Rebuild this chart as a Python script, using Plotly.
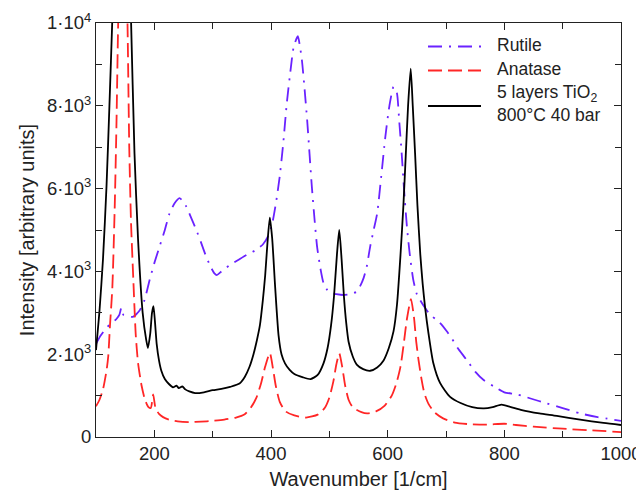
import plotly.graph_objects as go

# Raman spectra of TiO2 references and a sintered 5-layer film
rutile_x = [100, 108, 118, 127, 135, 140, 143.5, 147, 155, 163, 170, 175, 183, 192, 200, 209, 218, 226,
            235, 243, 249, 255, 263, 272, 280, 289, 297, 303, 307, 315, 329, 343, 358, 372, 386, 395,
            402, 409, 415, 421, 427, 433, 439, 446, 450, 453, 457, 462, 466, 470, 475, 479, 485, 490,
            496, 502, 512, 524, 536, 547, 553, 559, 564, 570, 576, 582, 589, 596, 603, 610, 613, 616,
            620, 624, 628, 633, 638, 644, 650, 656, 664, 673, 682, 690, 701, 710, 720, 735, 750, 765,
            787, 800, 822, 845, 873, 900, 930, 960, 1000]
rutile_y = [2250, 2450, 2640, 2750, 2850, 2950, 3120, 2950, 2920, 2900, 2980, 3060, 3300, 3800, 4200,
            4600, 5000, 5400, 5650, 5770, 5700, 5560, 5300, 5000, 4700, 4350, 4100, 3950, 3910, 4000,
            4150, 4270, 4400, 4500, 4650, 4850, 5150, 5700, 6300, 7100, 8050, 8800, 9430, 9680, 9400,
            9100, 8500, 7650, 6850, 6050, 5200, 4600, 4050, 3720, 3560, 3480, 3450, 3430, 3450, 3510,
            3650, 3850, 4110, 4600, 5000, 5400, 6300, 7250, 8000, 8460, 8400, 8300, 7600, 6850, 6000,
            5080, 4400, 3790, 3450, 3300, 3120, 2950, 2850, 2750, 2560, 2380, 2150, 1870, 1580, 1370,
            1180, 1080, 1030, 930, 810, 700, 570, 480, 390]

anatase_x = [100, 106, 112, 118, 121, 124, 128, 132, 135, 138, 146, 154, 157, 160, 164, 168, 172, 178,
             184, 190, 194, 198, 202, 208, 215, 225, 240, 260, 280, 300, 320, 340, 355, 365, 375, 383,
             390, 398, 404, 408, 415, 425, 440, 460, 480, 492, 500, 507, 512, 517, 522, 527, 533, 540,
             555, 565, 580, 595, 607, 615, 622, 628, 633, 640, 645, 649, 653, 658, 663, 670, 680, 695,
             715, 740, 770, 800, 820, 850, 900, 950, 1000]
anatase_y = [740, 900, 1150, 1600, 1950, 2700, 3600, 5500, 7500, 10000, 15000, 10000, 7000, 5200, 3800,
             2500, 1800, 1250, 900, 720, 700, 1030, 700, 560, 480, 420, 380, 360, 370, 390, 420, 470,
             550, 700, 950, 1300, 1700, 2030, 1600, 1250, 850, 620, 520, 470, 540, 700, 950, 1350, 1750,
             2020, 1700, 1250, 900, 720, 600, 570, 620, 760, 1000, 1300, 1700, 2300, 2850, 3330, 2900,
             2300, 1850, 1400, 1050, 800, 600, 450, 350, 310, 300, 320, 290, 250, 200, 160, 120]

film_x = [100, 106, 112, 118, 123, 128, 136, 144, 152, 160, 166, 172, 180, 186, 189, 193, 196, 198.5,
          201, 204, 208, 212, 218, 225, 232, 238, 242, 248, 253, 260, 270, 285, 300, 315, 330, 346,
          355, 363, 370, 376, 381, 386, 390, 394, 398, 402, 407, 413, 418, 424, 432, 440, 455, 468,
          480, 490, 497, 503, 508, 513, 517, 521, 525, 529, 533, 540, 547, 558, 570, 582, 593, 602,
          610, 616, 622, 627, 631, 635, 639.5, 643, 647, 651, 656, 660, 664, 670, 678, 690, 707, 725,
          745, 765, 780, 795, 810, 830, 860, 890, 930, 970, 1000]
film_y = [2100, 3050, 4300, 6050, 8000, 10100, 14000, 17000, 14000, 10100, 6850, 4800, 3000, 2350,
          2150, 2500, 3000, 3160, 2800, 2250, 1850, 1600, 1400, 1280, 1200, 1240, 1180, 1220, 1150,
          1100, 1060, 1080, 1130, 1160, 1210, 1290, 1450, 1690, 2000, 2350, 2700, 3300, 3900, 4700,
          5300, 4800, 3650, 2450, 2000, 1780, 1620, 1520, 1440, 1400, 1500, 1780, 2150, 2700, 3400,
          4400, 5000, 4300, 3400, 2750, 2300, 1950, 1750, 1640, 1600, 1680, 1850, 2150, 2550, 3200,
          4400, 5600, 6800, 8000, 8900, 8000, 6850, 5600, 4400, 3700, 3150, 2500, 1800, 1300, 970,
          820, 720, 690, 720, 780, 730, 650, 570, 510, 420, 340, 290]

y_tickvals = [0, 2000, 4000, 6000, 8000, 10000]
y_ticktext = ["0", "2·10<sup>3</sup>", "4·10<sup>3</sup>", "6·10<sup>3</sup>",
              "8·10<sup>3</sup>", "1·10<sup>4</sup>"]
x_tickvals = [200, 400, 600, 800, 1000]

RUTILE_COLOR = "#6a22ff"
ANATASE_COLOR = "#ff2626"
FILM_COLOR = "#000000"
RUTILE_DASH = "14px,7px,2px,7px"
ANATASE_DASH = "14px,6px"

W, H = 636, 493
ML, MR, MT, MB = 96, 15, 23, 56

fig = go.Figure()
fig.add_trace(go.Scatter(x=rutile_x, y=rutile_y, mode="lines", name="Rutile",
                         line=dict(color=RUTILE_COLOR, width=1.8, dash=RUTILE_DASH,
                                   shape="spline", smoothing=0.6)))
fig.add_trace(go.Scatter(x=anatase_x, y=anatase_y, mode="lines", name="Anatase",
                         line=dict(color=ANATASE_COLOR, width=1.8, dash=ANATASE_DASH,
                                   shape="spline", smoothing=0.6)))
fig.add_trace(go.Scatter(x=film_x, y=film_y, mode="lines", name="5 layers TiO2 800°C 40 bar",
                         line=dict(color=FILM_COLOR, width=1.8, shape="spline", smoothing=0.6)))

# Hand-built legend: longer line samples than the built-in legend allows
pw, ph = W - ML - MR, H - MT - MB


def px_x(p):
    return (p - ML) / pw


def px_y(p):
    return (H - MB - p) / ph


legend_rows = [
    ("Rutile", RUTILE_COLOR, RUTILE_DASH, 46.5, 45),
    ("Anatase", ANATASE_COLOR, ANATASE_DASH, 70.5, 69),
    ("5 layers TiO<sub>2</sub><br>800°C 40 bar", FILM_COLOR, "solid", 106, 104),
]
shapes, annotations = [], []
for text, color, dash, ly, ty in legend_rows:
    shapes.append(dict(type="line", xref="paper", yref="paper",
                       x0=px_x(428), x1=px_x(481), y0=px_y(ly), y1=px_y(ly),
                       line=dict(color=color, width=1.8, dash=dash)))
    annotations.append(dict(xref="paper", yref="paper", x=px_x(495), y=px_y(ty),
                            xanchor="left", yanchor="middle", text=text, showarrow=False,
                            align="left", font=dict(size=17.5, color="#222")))

axis_common = dict(showline=True, mirror="allticks", linecolor="#222", linewidth=1.2,
                   ticks="inside", ticklen=7, tickwidth=1.2, tickcolor="#222",
                   showgrid=False, zeroline=False, ticklabeloverflow="allow",
                   tickfont=dict(size=18.5, color="#222"))

fig.update_layout(
    width=W, height=H,
    margin=dict(l=ML, r=MR, t=MT, b=MB, autoexpand=False),
    paper_bgcolor="white", plot_bgcolor="white",
    font=dict(family="Liberation Sans, Arial, sans-serif", color="#222"),
    showlegend=False,
    shapes=shapes, annotations=annotations,
    xaxis=dict(range=[100, 1000], tickvals=x_tickvals,
               minor=dict(tickvals=[100, 300, 500, 700, 900], ticks="inside", ticklen=6,
                          tickcolor="#222", tickwidth=1.2),
               title=dict(text="Wavenumber [1/cm]", font=dict(size=20, color="#222"), standoff=8),
               automargin=False, **axis_common),
    yaxis=dict(range=[0, 10000], tickvals=y_tickvals, ticktext=y_ticktext,
               minor=dict(tickvals=[1000, 3000, 5000, 7000, 9000], ticks="inside", ticklen=6,
                          tickcolor="#222", tickwidth=1.2),
               title=dict(text="Intensity [arbitrary units]", font=dict(size=20, color="#222"),
                          standoff=6),
               automargin=False, **axis_common),
)

fig.write_html("out.html")
